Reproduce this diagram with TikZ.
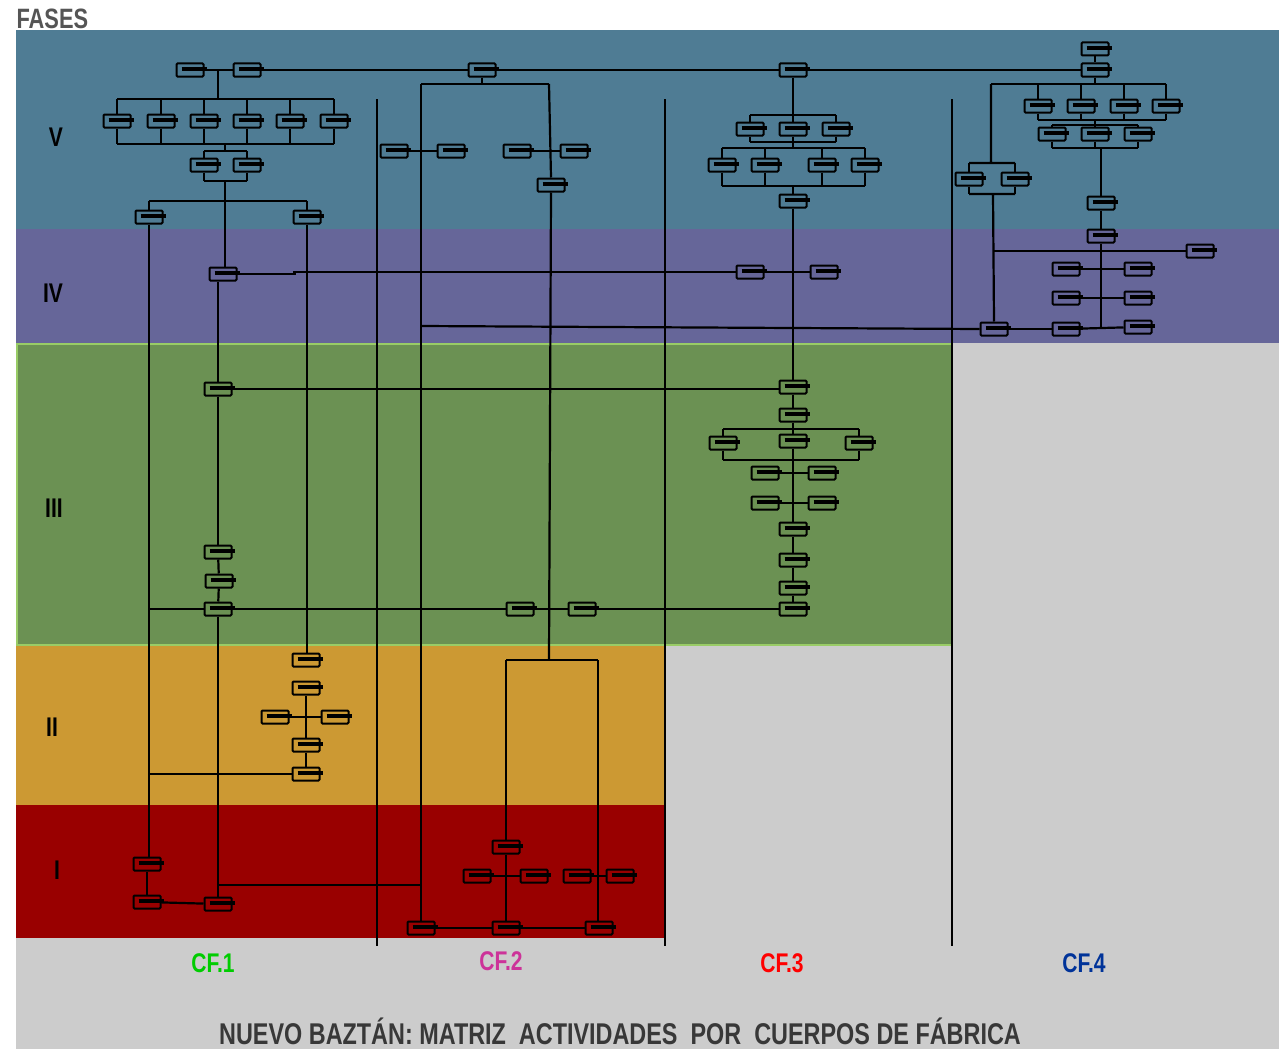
\documentclass[tikz,border=0pt]{standalone}
\usepackage{fontspec}
\usepackage{xcolor}
\usepackage{tikz}
\usetikzlibrary{positioning}
\newfontfamily\cond{Liberation Sans}[FakeStretch=0.78]
\definecolor{FaseV}{HTML}{4F7C94}
\definecolor{FaseIV}{HTML}{666699}
\definecolor{FaseIII}{HTML}{6B9153}
\definecolor{FaseII}{HTML}{CC9933}
\definecolor{FaseI}{HTML}{990000}
\definecolor{Fondo}{HTML}{CCCCCC}
\definecolor{Borde}{HTML}{99CC66}
\definecolor{Gris}{HTML}{555555}
\definecolor{GrisOsc}{HTML}{383838}
\definecolor{CFuno}{HTML}{00CC00}
\definecolor{CFdos}{HTML}{CC3399}
\definecolor{CFtres}{HTML}{FF0000}
\definecolor{CFcuatro}{HTML}{003399}

\begin{document}
\begin{tikzpicture}[
  x=1pt, y=-1pt,
  ue/.style={draw,line width=2pt,rounded corners=1pt,minimum width=27pt,minimum height=13pt,inner sep=0pt,
    append after command={([xshift=6pt,yshift=1pt]\tikzlastnode.west) edge[draw,line width=3.4pt] ([xshift=2pt,yshift=1pt]\tikzlastnode.east)}},
  ln/.style={line width=2.2pt},
  sep/.style={line width=1.6pt},
  fase/.style={font=\cond\bfseries\fontsize{27}{27}\selectfont},
  cf/.style={font=\cond\bfseries\fontsize{27}{27}\selectfont}
]
  \useasboundingbox (0,0) rectangle (1279,1049);
  \fill[Fondo] (16,30) rectangle (1279,1049);
  \fill[FaseV] (16,30) rectangle (1279,229);
  \fill[FaseIV] (16,229) rectangle (1279,343);
  \filldraw[fill=FaseIII,draw=Borde,line width=1.5pt] (17,344) rectangle (952,645);
  \fill[FaseII] (16,646) rectangle (665,805);
  \fill[FaseI] (16,805) rectangle (665,938);

  \draw[sep] (377,99) -- (377,946);
  \draw[sep] (665,99) -- (665,946);
  \draw[sep] (952,99) -- (952,946);

  \node[anchor=base west,text=Gris,font=\cond\bfseries\fontsize{28}{28}\selectfont] (fases) at (13,29) {FASES};
  \node[fase] (fV) at (56,137) {V};
  \node[fase] (fIV) at (53,293) {IV};
  \node[fase] (fIII) at (54,508) {III};
  \node[fase] (fII) at (52,727) {II};
  \node[fase] (fI) at (57,870) {I};
  \node[cf,text=CFuno] (cf1) at (213,963) {CF.1};
  \node[cf,text=CFdos] (cf2) at (501,961) {CF.2};
  \node[cf,text=CFtres] (cf3) at (782,963) {CF.3};
  \node[cf,text=CFcuatro] (cf4) at (1084,963) {CF.4};
  \node[anchor=base,text=GrisOsc,font=\cond\bfseries\fontsize{30}{30}\selectfont] (titulo) at (620,1044)
    {NUEVO BAZTÁN: MATRIZ~ ACTIVIDADES~ POR~ CUERPOS DE FÁBRICA};

  % CF.1
  \node[ue] (a1) at (190,70) {};
  \node[ue] (a2) at (247,70) {};
  \node[ue] (a3) at (117,121) {};
  \node[ue] (a4) at (161,121) {};
  \node[ue] (a5) at (204,121) {};
  \node[ue] (a6) at (247,121) {};
  \node[ue] (a7) at (290,121) {};
  \node[ue] (a8) at (334,121) {};
  \node[ue] (a9) at (204,165) {};
  \node[ue] (a10) at (247,165) {};
  \node[ue] (a11) at (149,217) {};
  \node[ue] (a12) at (307,217) {};
  \node[ue] (a13) at (223,274) {};
  \node[ue] (a14) at (218,389) {};
  \node[ue] (a15) at (218,552) {};
  \node[ue] (a16) at (219,581) {};
  \node[ue] (a17) at (218,609) {};
  \node[ue] (a18) at (306,660) {};
  \node[ue] (a19) at (306,688) {};
  \node[ue] (a20) at (275,717) {};
  \node[ue] (a21) at (335,717) {};
  \node[ue] (a22) at (306,745) {};
  \node[ue] (a23) at (306,774) {};
  \node[ue] (a24) at (147,864) {};
  \node[ue] (a25) at (147,902) {};
  \node[ue] (a26) at (218,904) {};

  % CF.2
  \node[ue] (b1) at (482,70) {};
  \node[ue] (b2) at (394,151) {};
  \node[ue] (b3) at (451,151) {};
  \node[ue] (b4) at (517,151) {};
  \node[ue] (b5) at (574,151) {};
  \node[ue] (b6) at (551,185) {};
  \node[ue] (b7) at (520,609) {};
  \node[ue] (b8) at (582,609) {};
  \node[ue] (b9) at (506,847) {};
  \node[ue] (b10) at (477,876) {};
  \node[ue] (b11) at (534,876) {};
  \node[ue] (b12) at (577,876) {};
  \node[ue] (b13) at (620,876) {};
  \node[ue] (b14) at (421,928) {};
  \node[ue] (b15) at (506,928) {};
  \node[ue] (b16) at (599,928) {};

  % CF.3
  \node[ue] (c1) at (793,70) {};
  \node[ue] (c2) at (750,129) {};
  \node[ue] (c3) at (793,129) {};
  \node[ue] (c4) at (836,129) {};
  \node[ue] (c5) at (722,165) {};
  \node[ue] (c6) at (765,165) {};
  \node[ue] (c7) at (822,165) {};
  \node[ue] (c8) at (865,165) {};
  \node[ue] (c9) at (793,201) {};
  \node[ue] (c11) at (750,272) {};
  \node[ue] (c12) at (824,272) {};
  \node[ue] (c10) at (793,387) {};
  \node[ue] (c13) at (793,415) {};
  \node[ue] (c14) at (723,443) {};
  \node[ue] (c15) at (793,441) {};
  \node[ue] (c16) at (859,443) {};
  \node[ue] (c17) at (765,473) {};
  \node[ue] (c18) at (822,473) {};
  \node[ue] (c19) at (765,503) {};
  \node[ue] (c20) at (822,503) {};
  \node[ue] (c21) at (793,529) {};
  \node[ue] (c22) at (793,560) {};
  \node[ue] (c23) at (793,588) {};
  \node[ue] (c24) at (793,609) {};

  % CF.4
  \node[ue] (d1) at (1095,49) {};
  \node[ue] (d2) at (1095,70) {};
  \node[ue] (d3) at (1038,106) {};
  \node[ue] (d4) at (1081,106) {};
  \node[ue] (d5) at (1124,106) {};
  \node[ue] (d6) at (1166,106) {};
  \node[ue] (d7) at (1052,134) {};
  \node[ue] (d8) at (1095,134) {};
  \node[ue] (d9) at (1138,134) {};
  \node[ue] (d10) at (1101,203) {};
  \node[ue] (d11) at (1101,236) {};
  \node[ue] (d12) at (969,179) {};
  \node[ue] (d13) at (1015,179) {};
  \node[ue] (d14) at (994,329) {};
  \node[ue] (d15) at (1200,251) {};
  \node[ue] (d16) at (1066,269) {};
  \node[ue] (d17) at (1138,269) {};
  \node[ue] (d18) at (1066,298) {};
  \node[ue] (d19) at (1138,298) {};
  \node[ue] (d20) at (1066,329) {};
  \node[ue] (d21) at (1138,327) {};

  \coordinate (ka) at (218,99);
  \coordinate (kb) at (225,144);
  \coordinate (kc) at (225,151);
  \coordinate (kd) at (225,181);
  \coordinate (ke) at (225,201);
  \coordinate (kf) at (218,885);
  \coordinate (kg) at (482,84);
  \coordinate (kh) at (421,84);
  \coordinate (ki) at (549,84);
  \coordinate (kj) at (549,660);
  \coordinate (kk) at (598,660);
  \coordinate (kl) at (421,326);
  \coordinate (km) at (793,115);
  \coordinate (kn) at (793,142);
  \coordinate (ko) at (793,148);
  \coordinate (kp) at (793,186);
  \coordinate (kq) at (793,429);
  \coordinate (kr) at (793,460);
  \coordinate (ks) at (1095,84);
  \coordinate (kt) at (991,84);
  \coordinate (ku) at (1095,120);
  \coordinate (kv) at (1095,125);
  \coordinate (kw) at (1101,148);
  \coordinate (kx) at (991,163);
  \coordinate (ky) at (993,194);
  \coordinate (kz) at (993,251);

  % linea superior
  \draw[ln] (a1) -- (a2);
  \draw[ln] (a2) -- (b1);
  \draw[ln] (b1) -- (c1);
  \draw[ln] (c1) -- (d2);

  % CF.1
  \draw[ln] (ka) -- (ka |- a1);
  \draw[ln] (a3 |- ka) -- (a8 |- ka) (a3 |- kb) -- (a8 |- kb);
  \draw[ln] (a3.north) -- (a3 |- ka) (a4.north) -- (a4 |- ka) (a5.north) -- (a5 |- ka)
            (a6.north) -- (a6 |- ka) (a7.north) -- (a7 |- ka) (a8.north) -- (a8 |- ka);
  \draw[ln] (a3.south) -- (a3 |- kb) (a4.south) -- (a4 |- kb) (a5.south) -- (a5 |- kb)
            (a6.south) -- (a6 |- kb) (a7.south) -- (a7 |- kb) (a8.south) -- (a8 |- kb);
  \draw[ln] (kb) -- (kc) (a9 |- kc) -- (a10 |- kc) (a9 |- kd) -- (a10 |- kd) (kd) -- (ke) (a11 |- ke) -- (a12 |- ke);
  \draw[ln] (a9.north) -- (a9 |- kc) (a10.north) -- (a10 |- kc) (a9.south) -- (a9 |- kd) (a10.south) -- (a10 |- kd);
  \draw[ln] (a11.north) -- (a11 |- ke) (a12.north) -- (a12 |- ke) (ke) -- (ke |- a13.north);
  \draw[ln] (a13.east) -- ++(57,0) |- (c11.west);
  \draw[ln] (a14.north) -- (a14 |- a13.south);
  \draw[ln] (a14.east) -- (a14 -| c10.west);
  \draw[ln] (a14) -- (a15);
  \draw[ln] (a15) -- (a16);
  \draw[ln] (a16) -- (a17);
  \draw[ln] (a11 |- a17) -- (a17.west);
  \draw[ln] (a17) -- (b7);
  \draw[ln] (b7) -- (b8);
  \draw[ln] (b8) -- (c24);
  \draw[ln] (a17.south) -- (a26.north);
  \draw[ln] (kf) -- (kf -| b14);
  \draw[ln] (a11.south) -- (a11 |- a24.north);
  \draw[ln] (a11 |- a23) -- (a23.west);
  \draw[ln] (a24) -- (a25);
  \draw[ln] (a25) -- (a26);
  \draw[ln] (a12.south) -- (a12 |- a18.north);
  \draw[ln] (a19) -- (a22);
  \draw[ln] (a20) -- (a21);
  \draw[ln] (a22) -- (a23);

  % CF.2
  \draw[ln] (b1.south) -- (kg);
  \draw[ln] (kh) -- (ki);
  \draw[ln] (kh) -- (b14.north);
  \draw[ln] (ki) -- (b6.north);
  \draw[ln] (b2) -- (b3);
  \draw[ln] (b4) -- (b5);
  \draw[ln] (b6.south) -- (kj);
  \draw[ln] (b9 |- kj) -- (kk);
  \draw[ln] (b9.north) -- (b9 |- kj);
  \draw[ln] (kk) -- (kk |- b16.north);
  \draw[ln] (b9) -- (b15);
  \draw[ln] (b10) -- (b11);
  \draw[ln] (b12) -- (b13);
  \draw[ln] (b14) -- (b15);
  \draw[ln] (b15) -- (b16);
  \draw[ln] (kl) -- (d14.west);

  % CF.3
  \draw[ln] (c1.south) -- (km) (c2 |- km) -- (c4 |- km) (c2 |- kn) -- (c4 |- kn);
  \draw[ln] (c2.north) -- (c2 |- km) (c3.north) -- (km) (c4.north) -- (c4 |- km)
            (c2.south) -- (c2 |- kn) (c3.south) -- (kn) (c4.south) -- (c4 |- kn);
  \draw[ln] (kn) -- (ko) (c5 |- ko) -- (c8 |- ko) (c5 |- kp) -- (c8 |- kp) (kp) -- (c9.north);
  \draw[ln] (c5.north) -- (c5 |- ko) (c6.north) -- (c6 |- ko) (c7.north) -- (c7 |- ko) (c8.north) -- (c8 |- ko)
            (c5.south) -- (c5 |- kp) (c6.south) -- (c6 |- kp) (c7.south) -- (c7 |- kp) (c8.south) -- (c8 |- kp);
  \draw[ln] (c9) -- (c10);
  \draw[ln] (c11) -- (c12);
  \draw[ln] (c10) -- (c13);
  \draw[ln] (c13.south) -- (kq) (c14 |- kq) -- (c16 |- kq) (c14 |- kr) -- (c16 |- kr) (kr) -- (c21.north);
  \draw[ln] (c14.north) -- (c14 |- kq) (c15.north) -- (kq) (c16.north) -- (c16 |- kq)
            (c14.south) -- (c14 |- kr) (c15.south) -- (kr) (c16.south) -- (c16 |- kr);
  \draw[ln] (c17) -- (c18);
  \draw[ln] (c19) -- (c20);
  \draw[ln] (c21) -- (c22);
  \draw[ln] (c22) -- (c23);
  \draw[ln] (c23) -- (c24);

  % CF.4
  \draw[ln] (d1) -- (d2);
  \draw[ln] (d2.south) -- (ks) (kt) -- (d6 |- ks) (d3 |- ku) -- (d6 |- ku) (ku) -- (kv)
            (d7 |- kv) -- (d9 |- kv) (d7 |- kw) -- (d9 |- kw);
  \draw[ln] (d3.north) -- (d3 |- ks) (d4.north) -- (d4 |- ks) (d5.north) -- (d5 |- ks) (d6.north) -- (d6 |- ks)
            (d3.south) -- (d3 |- ku) (d4.south) -- (d4 |- ku) (d5.south) -- (d5 |- ku) (d6.south) -- (d6 |- ku);
  \draw[ln] (d7.north) -- (d7 |- kv) (d8.north) -- (kv) (d9.north) -- (d9 |- kv)
            (d7.south) -- (d7 |- kw) (d8.south) -- (d8 |- kw) (d9.south) -- (d9 |- kw);
  \draw[ln] (kw) -- (d10.north);
  \draw[ln] (d10) -- (d11);
  \draw[ln] (d11.south) -- (d11 |- d20);
  \draw[ln] (kt) -- (kx) (d12 |- kx) -- (d13 |- kx) (d12 |- ky) -- (d13 |- ky) (ky) -- (d14.north);
  \draw[ln] (d12.north) -- (d12 |- kx) (d13.north) -- (d13 |- kx) (d12.south) -- (d12 |- ky) (d13.south) -- (d13 |- ky);
  \draw[ln] (kz) -- (d15.west);
  \draw[ln] (d16) -- (d17);
  \draw[ln] (d18) -- (d19);
  \draw[ln] (d14) -- (d20);
  \draw[ln] (d20) -- (d21);
\end{tikzpicture}
\end{document}
